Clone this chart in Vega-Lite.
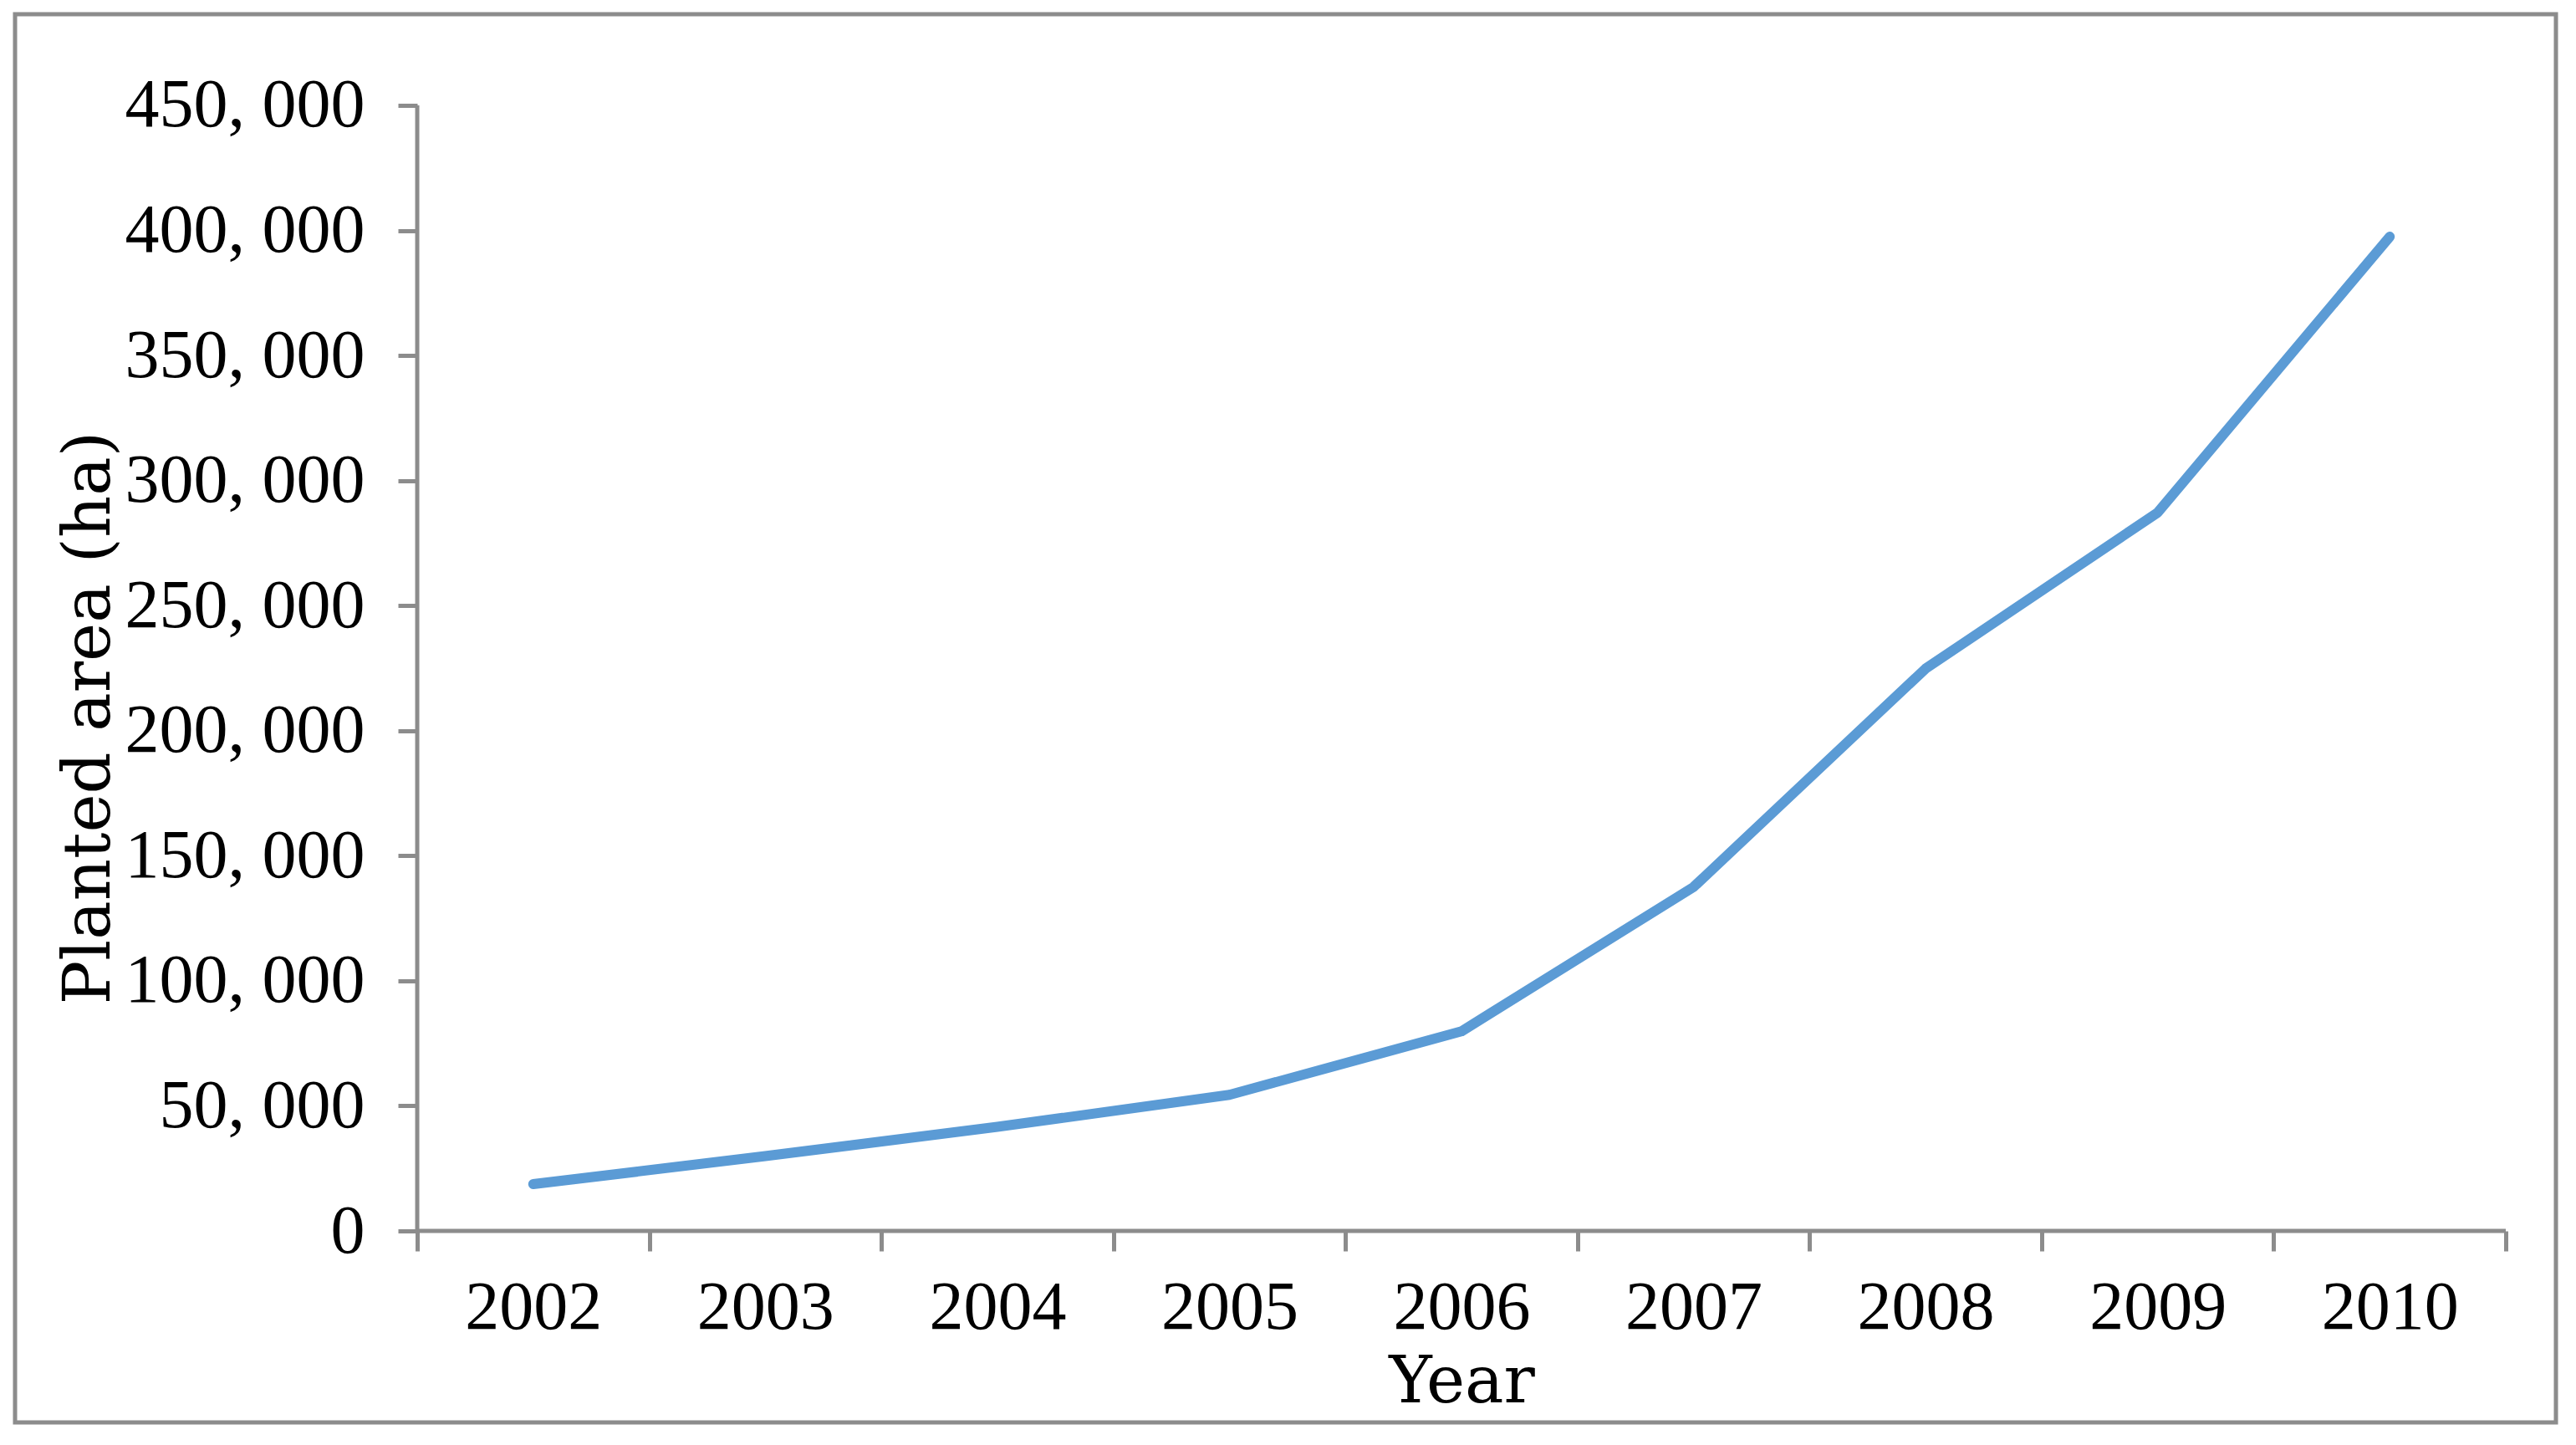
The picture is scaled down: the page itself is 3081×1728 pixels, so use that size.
{
  "$schema": "https://vega.github.io/schema/vega-lite/v6.json",
  "autosize": "none",
  "padding": {"left": 18, "top": 17, "right": 24, "bottom": 27},
  "width": 3039,
  "height": 1684,
  "background": "white",
  "config": {"view": {"stroke": "#8c8c8c", "strokeWidth": 5}},
  "layer": [
    {
      "data": {"values": [
        {"year": 2002, "area": 18700},
        {"year": 2003, "area": 29900},
        {"year": 2004, "area": 41600},
        {"year": 2005, "area": 54400},
        {"year": 2006, "area": 79800},
        {"year": 2007, "area": 137500},
        {"year": 2008, "area": 224800},
        {"year": 2009, "area": 287200},
        {"year": 2010, "area": 397500}
      ]},
      "mark": {"type": "line", "color": "#5b9bd5", "strokeWidth": 12, "strokeCap": "round", "strokeJoin": "round"},
      "encoding": {
        "x": {
          "field": "year", "type": "ordinal",
          "scale": {"type": "band", "domain": [2002, 2003, 2004, 2005, 2006, 2007, 2008, 2009, 2010], "paddingInner": 0, "paddingOuter": 0.97465, "align": 0.88909},
          "axis": {
            "title": "Year", "offset": -229, "domain": false, "grid": false,
            "tickBand": "extent", "tickSize": 24, "tickWidth": 5, "tickColor": "#8c8c8c",
            "labelFont": "Liberation Serif", "labelFontSize": 82, "labelColor": "black",
            "labelPadding": 27, "labelAngle": 0, "labelLimit": 0,
            "titleFont": "DejaVu Serif", "titleFontSize": 78, "titleFontWeight": "normal",
            "titleColor": "black", "titleX": 1730, "titleY": 204, "titleBaseline": "alphabetic", "titleAlign": "center"
          }
        },
        "y": {
          "field": "area", "type": "quantitative",
          "scale": {"domain": [-76560, 486441], "nice": false, "zero": false},
          "axis": {
            "title": "Planted area (ha)", "offset": -481, "domain": false, "grid": false,
            "values": [0, 50000, 100000, 150000, 200000, 250000, 300000, 350000, 400000, 450000],
            "labelExpr": "replace(format(datum.value, ','), ',', ', ')",
            "tickSize": 23, "tickWidth": 5, "tickColor": "#8c8c8c",
            "labelFont": "Liberation Serif", "labelFontSize": 82, "labelColor": "black",
            "labelPadding": 40, "labelFlush": false, "labelOverlap": false, "labelLimit": 0,
            "titleFont": "DejaVu Serif", "titleFontSize": 78, "titleFontWeight": "normal",
            "titleColor": "black", "titleX": -369, "titleY": 841, "titleBaseline": "alphabetic",
            "titleAngle": -90, "titleAlign": "center"
          }
        }
      }
    },
    {
      "data": {"values": [{"k": 1}]},
      "mark": {"type": "rule", "color": "#8c8c8c", "strokeWidth": 5},
      "encoding": {
        "x": {"datum": 2002, "type": "ordinal", "bandPosition": 0,
              "scale": {"type": "band", "domain": [2002, 2003, 2004, 2005, 2006, 2007, 2008, 2009, 2010], "paddingInner": 0, "paddingOuter": 0.97465, "align": 0.88909}},
        "y": {"datum": 0, "type": "quantitative",
              "scale": {"domain": [-76560, 486441], "nice": false, "zero": false}},
        "y2": {"datum": 450000}
      }
    },
    {
      "data": {"values": [{"k": 1}]},
      "mark": {"type": "rule", "color": "#8c8c8c", "strokeWidth": 5},
      "encoding": {
        "x": {"datum": 2002, "type": "ordinal", "bandPosition": 0,
              "scale": {"type": "band", "domain": [2002, 2003, 2004, 2005, 2006, 2007, 2008, 2009, 2010], "paddingInner": 0, "paddingOuter": 0.97465, "align": 0.88909}},
        "x2": {"datum": 2010, "bandPosition": 1},
        "y": {"datum": 0, "type": "quantitative",
              "scale": {"domain": [-76560, 486441], "nice": false, "zero": false}}
      }
    }
  ]
}
